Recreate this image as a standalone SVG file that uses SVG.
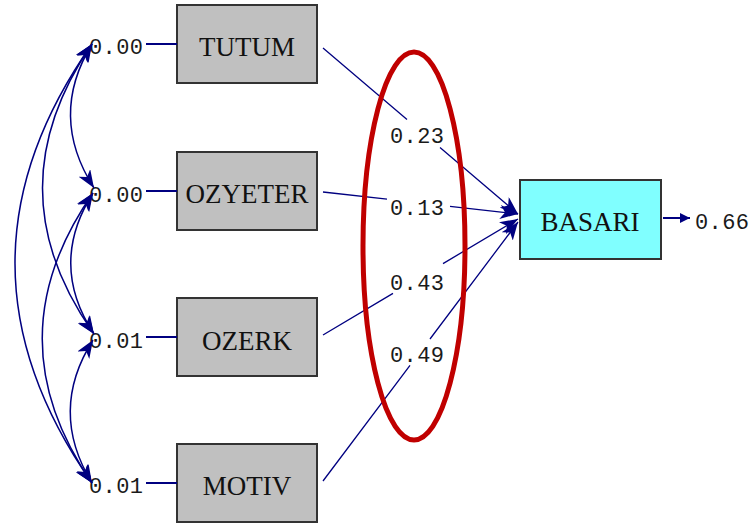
<svg xmlns="http://www.w3.org/2000/svg" width="754" height="524" viewBox="0 0 754 524">
  <style>
    .box { fill: #C0C0C0; stroke: #333333; stroke-width: 2; }
    .endo { fill: #80FFFF; stroke: #333333; stroke-width: 2; }
    .name { font-family: "Liberation Serif", "Times New Roman", serif; font-size: 27px; fill: #111111; text-anchor: middle; }
    .num { font-family: "Liberation Mono", "Courier New", monospace; font-size: 22px; fill: #1a1a1a; letter-spacing: 0.4px; }
    .path { fill: none; stroke: #000080; stroke-width: 1.3; }
    .cov { fill: none; stroke: #000080; stroke-width: 1.5; marker-start: url(#head); marker-end: url(#head); }
    .err { fill: none; stroke: #000080; stroke-width: 2; }
  </style>
  <defs>
    <marker id="head" viewBox="0 0 18 14" refX="18" refY="7" markerWidth="18" markerHeight="14" markerUnits="userSpaceOnUse" orient="auto-start-reverse">
      <path d="M0,0 L18,7 L0,14 L5,7 z" fill="#000080"/>
    </marker>
    <marker id="small" viewBox="0 0 10 10" refX="10" refY="5" markerWidth="10" markerHeight="10" markerUnits="userSpaceOnUse" orient="auto">
      <path d="M0,0 L10,5 L0,10 z" fill="#000080"/>
    </marker>
  </defs>

  <!-- observed variables -->
  <g id="tutum">
    <rect class="box" x="177" y="5" width="140" height="78"/>
    <text class="name" x="247" y="56">TUTUM</text>
  </g>
  <g id="ozyeter">
    <rect class="box" x="177" y="152" width="140" height="78"/>
    <text class="name" x="247" y="203">OZYETER</text>
  </g>
  <g id="ozerk">
    <rect class="box" x="177" y="298" width="140" height="78"/>
    <text class="name" x="247" y="350">OZERK</text>
  </g>
  <g id="motiv">
    <rect class="box" x="177" y="444" width="140" height="78"/>
    <text class="name" x="247" y="495">MOTIV</text>
  </g>
  <g id="basari">
    <rect class="endo" x="520" y="180" width="141" height="79"/>
    <text class="name" x="590" y="231">BASARI</text>
  </g>

  <g id="connectors">
    <!-- error terms of the predictors -->
    <path class="err" d="M146,44 L177,44"/>
    <path class="err" d="M146,191 L177,191"/>
    <path class="err" d="M146,337 L177,337"/>
    <path class="err" d="M146,483 L177,483"/>
    <text class="num" x="89" y="54">0.00</text>
    <text class="num" x="89" y="202">0.00</text>
    <text class="num" x="89" y="348">0.01</text>
    <text class="num" x="89" y="493">0.01</text>

    <!-- covariances between predictors -->
    <path class="cov" d="M92,44 Q48,116 94,188"/>
    <path class="cov" d="M92,44 Q-8,190 94,334"/>
    <path class="cov" d="M92,44 Q-62,263 92,483"/>
    <path class="cov" d="M93,193 Q48,264 94,334"/>
    <path class="cov" d="M93,193 Q-8,338 92,483"/>
    <path class="cov" d="M93,340 Q48,411 92,483"/>

    <!-- structural paths to BASARI -->
    <path class="path" d="M323,48 L407,119.5 M440,147.6 L518,214" marker-end="url(#head)"/>
    <path class="path" d="M323,192 L387,199.2 M450,206.3 L518,214" marker-end="url(#head)"/>
    <path class="path" d="M323,335 L393,293.4 M443,263.6 L518,219" marker-end="url(#head)"/>
    <path class="path" d="M323,481 L410,365.4 M430,339 L518,222" marker-end="url(#head)"/>
    <text class="num" x="390" y="143">0.23</text>
    <text class="num" x="390" y="215">0.13</text>
    <text class="num" x="390" y="290">0.43</text>
    <text class="num" x="390" y="362">0.49</text>

    <!-- error term of BASARI -->
    <path class="err" d="M663,218 L690,218" marker-end="url(#small)"/>
    <text class="num" x="695" y="229">0.66</text>
  </g>

  <!-- highlight around the path coefficients -->
  <ellipse cx="414" cy="246" rx="51" ry="194" fill="none" stroke="#C00000" stroke-width="5"/>
</svg>
